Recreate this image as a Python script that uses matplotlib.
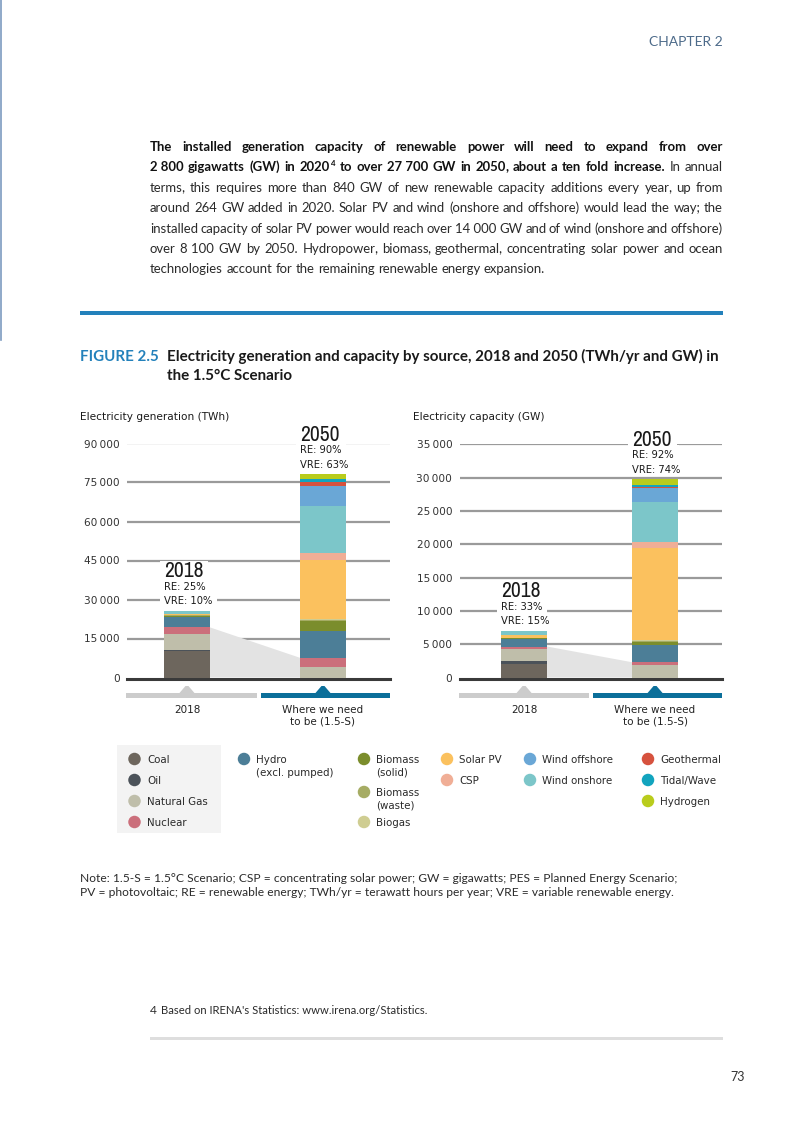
import matplotlib
matplotlib.use('Agg')
import matplotlib.pyplot as plt
from matplotlib.patches import Rectangle, Polygon, Ellipse
from matplotlib import font_manager
from matplotlib.font_manager import FontProperties
import numpy as np

# ---------------- data ----------------
sources = ['Coal', 'Oil', 'Natural Gas', 'Nuclear', 'Hydro (excl. pumped)',
           'Biomass (solid)', 'Biomass (waste)', 'Biogas', 'Solar PV', 'CSP',
           'Wind onshore', 'Wind offshore', 'Geothermal', 'Tidal/Wave', 'Hydrogen']
source_colors = ['#6d665d', '#4b5259', '#bfbeaa', '#cb6f7b', '#4c7e97',
                 '#7b8d2c', '#a6ac64', '#cfcd92', '#fbc15e', '#f0ae96',
                 '#7cc6c9', '#6aa7d6', '#d6523e', '#12a4be', '#b9cc1c']
non_renewable = ['Coal', 'Oil', 'Natural Gas', 'Nuclear']

gen_2018 = [10050, 700, 5850, 2680, 4080, 480, 120, 100, 350, 10, 1250, 0, 0, 0, 0]
gen_2050 = [0, 0, 4110, 3470, 10410, 3600, 450, 450, 22740, 2570, 18120, 7840, 1540, 1030, 1800]
cap_2018 = [2050, 450, 1800, 350, 1150, 110, 20, 20, 480, 5, 560, 25, 15, 0, 0]
cap_2050 = [0, 0, 1890, 400, 2590, 500, 120, 80, 13930, 800, 6070, 1990, 200, 300, 850]

years = ['2018', '2050']
gen_re = [25, 90]
gen_vre = [10, 63]
cap_re = [33, 92]
cap_vre = [15, 74]
scenario_labels = ['2018', 'Where we need\nto be (1.5-S)']
gen_ticks = [0, 15000, 30000, 45000, 60000, 75000, 90000]
cap_ticks = [0, 5000, 10000, 15000, 20000, 25000, 30000, 35000]

legend_labels = ['Coal', 'Oil', 'Natural Gas', 'Nuclear', 'Hydro\n(excl. pumped)',
                 'Biomass\n(solid)', 'Biomass\n(waste)', 'Biogas', 'Solar PV', 'CSP',
                 'Wind onshore', 'Wind offshore', 'Geothermal', 'Tidal/Wave', 'Hydrogen']
# legend layout (page pixels): circle centre x, y
legend_pos = [(134.5, 759), (134.5, 780), (134.5, 801), (134.5, 822), (244, 759),
              (364, 759), (364, 792), (364, 822), (447, 759), (447, 780),
              (530, 780), (530, 759), (648, 759), (648, 780), (648, 801)]

# ---------------- page setup ----------------
W, H = 803, 1134
fig = plt.figure(figsize=(W / 100, H / 100), dpi=100)
fig.patch.set_facecolor('white')
renderer = fig.canvas.get_renderer()

BODY = 'Lato'
CHART = ['DejaVu Sans']


def find_condensed():
    cands = []
    for f in font_manager.fontManager.ttflist:
        nm = f.name
        st = str(f.stretch).lower()
        if f.style != 'normal':
            continue
        w = f.weight
        try:
            w = int(w)
        except (TypeError, ValueError):
            w = {'normal': 400, 'regular': 400, 'light': 300, 'book': 400}.get(str(w), 700)
        if w > 500 or w < 300:
            continue
        score = None
        if 'Narrow' in nm:
            score = 0
        elif 'condensed' in st or 'Condensed' in nm:
            score = 1 if 'semi' not in st and 'Semi' not in nm else 2
            if 'extra' in st or 'Extra' in nm or 'ultra' in st:
                score = 3
        if score is not None:
            cands.append((score, abs(w - 400), f.fname))
    if cands:
        cands.sort()
        return FontProperties(fname=cands[0][2]), True
    return FontProperties(family='DejaVu Sans'), False


YEAR_FP, YEAR_COND = find_condensed()


def fx(x):
    return x / W


def fy(y):
    return 1 - y / H


def width_of(t):
    return t.get_window_extent(renderer).width


def ptext(x, y, s, **kw):
    kw.setdefault('va', 'baseline')
    return fig.text(fx(x), fy(y), s, **kw)


def fit(t, target):
    w = width_of(t)
    t.set_fontsize(t.get_fontsize() * target / w)
    return t.get_fontsize()


def prect(x0, y0, x1, y1, color, z=1):
    fig.add_artist(Rectangle((fx(x0), fy(y1)), (x1 - x0) / W, (y1 - y0) / H,
                             transform=fig.transFigure, facecolor=color,
                             edgecolor='none', zorder=z))


# left edge rule and chapter header
fig.add_artist(plt.Line2D([fx(1.5), fx(1.5)], [fy(0), fy(340)], color='#7d9bc0',
                          lw=1.2, transform=fig.transFigure))
t = ptext(723, 46.5, 'CHAPTER 2', family=BODY, fontsize=9, color='#4d6b8a', ha='right')
fit(t, 74)

# ---------------- paragraph (justified) ----------------
para = [
    [("The installed generation capacity of renewable power will need to expand from over", 'bold')],
    [("2\u00a0800 gigawatts (GW) in 2020^4 to over 27\u00a0700 GW in 2050, about a ten fold increase.", 'bold'),
     ("In annual", 'normal')],
    [("terms, this requires more than 840 GW of new renewable capacity additions every year, up from", 'normal')],
    [("around 264 GW added in 2020. Solar PV and wind (onshore and offshore) would lead the way; the", 'normal')],
    [("installed capacity of solar PV power would reach over 14\u00a0000 GW and of wind (onshore and offshore)", 'normal')],
    [("over 8\u00a0100 GW by 2050. Hydropower, biomass, geothermal, concentrating solar power and ocean", 'normal')],
    [("technologies account for the remaining renewable energy expansion.", 'normal')],
]
t = ptext(150, 273, para[-1][0][0], family=BODY, fontsize=8.5, color='#2a2a2a')
body_fs = fit(t, 397)
t.remove()

for i, line in enumerate(para):
    y = float(round(151 + i * 20.4))
    words = []
    for chunk, wt in line:
        for wd in chunk.split(' '):
            words.append((wd, wt))
    items = []
    widths = []
    for wd, wt in words:
        col = '#111111' if wt == 'bold' else '#2a2a2a'
        kw = dict(family=BODY, weight=wt, fontsize=body_fs, color=col)
        if '^' in wd:
            base, sup = wd.split('^')
            tb = ptext(0, y, base, **kw)
            ts = ptext(0, y, sup, family=BODY, weight=wt, fontsize=body_fs * 0.6, color=col)
            wb = width_of(tb)
            ws = width_of(ts)
            items.append([(tb, 0, 0), (ts, wb + 0.3, -5)])
            widths.append(wb + ws + 0.3)
        elif wd.endswith(',') and len(wd) > 1:
            tb = ptext(0, y, wd[:-1], **kw)
            tc = ptext(0, y, ',', **kw)
            wb = width_of(tb)
            wc = width_of(tc)
            items.append([(tb, 0, 0), (tc, wb - 1.3, 0)])
            widths.append(wb + wc - 1.3)
        else:
            tt = ptext(0, y, wd, **kw)
            items.append([(tt, 0, 0)])
            widths.append(width_of(tt))
    if i < len(para) - 1:
        gap = (573 - sum(widths)) / (len(words) - 1)
    else:
        gap = body_fs * 100 / 72 * 0.26
    x = 150
    for parts, w in zip(items, widths):
        for tt, dx, dy in parts:
            tt.set_position((fx(x + dx), fy(y + dy)))
        x += w + gap

# blue rule
prect(80, 311.5, 723, 314.5, '#2381bb')

# ---------------- figure title ----------------
t1 = ptext(167, 361, 'Electricity generation and capacity by source, 2018 and 2050 (TWh/yr and GW) in',
           family=BODY, weight='bold', fontsize=9, color='#1a1a1a')
tfs = fit(t1, 551)
ptext(167, 379.5, 'the 1.5\u00b0C Scenario', family=BODY, weight='bold', fontsize=tfs, color='#1a1a1a')
ptext(80, 361, 'FIGURE 2.5', family=BODY, weight='bold', fontsize=tfs, color='#2381bb')


# ---------------- charts ----------------
def fmt(v):
    return f"{v:,}".replace(',', '\u2009')


def label_box(xp, yb, s, size, cap, pad_t, pad_b, fp=None, target_w=None):
    if fp is None:
        tt = ptext(xp, yb, s, family=CHART, fontsize=size, color='#1a1a1a', zorder=6)
    else:
        tt = ptext(xp, yb, s, fontproperties=fp, color='#1a1a1a', zorder=6)
        tt.set_fontsize(size)
    if target_w is not None:
        fit(tt, target_w)
    w = width_of(tt)
    prect(xp - 4, yb - cap - pad_t, xp + w + 5, yb + pad_b, 'white', z=5)


def draw_chart(x0, x1, y_top, y_zero, ymax, ticks, s18, s50, re, vre, title, xlim, bw, pad):
    ax = fig.add_axes([fx(x0), fy(y_zero), (x1 - x0) / W, (y_zero - y_top) / H])
    ax.set_facecolor('none')
    ax.set_xlim(*xlim)
    ax.set_ylim(0, ymax)
    for s in ax.spines.values():
        s.set_visible(False)
    ax.set_yticks(ticks)
    ax.set_yticklabels([fmt(v) for v in ticks])
    ax.tick_params(axis='y', length=0, pad=pad, labelsize=7.6, labelcolor='#333333')
    for lab in ax.get_yticklabels():
        lab.set_family(CHART)
    ax.set_xticks([0, 1])
    ax.set_xticklabels(scenario_labels)
    ax.tick_params(axis='x', length=0, pad=19.5, labelsize=7.5, labelcolor='#222222')
    for lab in ax.get_xticklabels():
        lab.set_family(CHART)
        lab.set_linespacing(1.2)
    for v in ticks[1:]:
        ax.axhline(v, color='#9a9a9a', lw=1.6, zorder=0)
    ax.axhline(-ymax * 0.006, color='#3a3a3a', lw=2.2, zorder=1, clip_on=False)

    idx = [sources.index(n) for n in non_renewable]
    nre18 = sum(s18[i] for i in idx)
    nre50 = sum(s50[i] for i in idx)
    ax.fill([bw / 2, 1 - bw / 2, 1 - bw / 2, bw / 2], [0, 0, nre50, nre18],
            color='#e3e3e3', lw=0, zorder=1)

    bottoms = np.zeros(2)
    for i, c in enumerate(source_colors):
        vals = np.array([s18[i], s50[i]], dtype=float)
        ax.bar([0, 1], vals, bw, bottom=bottoms, color=c, lw=0, zorder=2)
        bottoms += vals

    # title
    ptext(x0 - 47, 419.5, title, family=CHART, fontsize=7.6, color='#1a1a1a')

    # year annotations
    for col in range(2):
        xd, yd = ax.transData.transform((col - bw / 2, bottoms[col]))
        top = H - yd
        label_box(xd, top - 6.5, f'VRE: {vre[col]}%', 7.2, 7, 4, 3.5)
        label_box(xd, top - 21, f'RE: {re[col]}%', 7.2, 7, 6, 4)
        if YEAR_COND:
            label_box(xd, top - 33.5, years[col], 15.5, 15, 1, 4, fp=YEAR_FP)
        else:
            label_box(xd, top - 33.5, years[col], 13, 15, 1, 4, fp=YEAR_FP, target_w=40)

    # category bars under axis
    bb = ax.get_position()
    left_px = bb.x0 * W
    right_px = bb.x1 * W
    mid = (left_px + right_px) / 2
    prect(left_px - 1, 692.5, mid - 2, 698, '#cccccc', z=2)
    prect(mid + 2, 692.5, right_px, 698, '#0b6f9a', z=2)
    for col, c in zip(range(2), ['#cccccc', '#0b6f9a']):
        xc = ax.transData.transform((col, 0))[0]
        fig.add_artist(Polygon([(fx(xc - 7.5), fy(693)), (fx(xc + 7.5), fy(693)),
                                (fx(xc + 1.5), fy(686)), (fx(xc - 1.5), fy(686))],
                               closed=True, transform=fig.transFigure,
                               facecolor=c, edgecolor='none', zorder=2))
    return ax


draw_chart(127, 390, 443.5, 677.5, 90000, gen_ticks, gen_2018, gen_2050, gen_re, gen_vre,
           'Electricity generation (TWh)', (-0.441, 1.493), 0.338, 5.0)
draw_chart(460, 722, 444.3, 677.5, 35000, cap_ticks, cap_2018, cap_2050, cap_re, cap_vre,
           'Electricity capacity (GW)', (-0.489, 1.511), 0.351, 5.5)

# ---------------- legend ----------------
prect(117, 745, 221, 833, '#f3f3f3', z=1)
for lab, c, (cx, cy) in zip(legend_labels, source_colors, legend_pos):
    fig.add_artist(Ellipse((fx(cx), fy(cy)), 12.5 / W, 12.5 / H, transform=fig.transFigure,
                           facecolor=c, edgecolor='none', zorder=3))
    lines = lab.split('\n')
    for k, ln in enumerate(lines):
        ptext(cx + 12.5, cy + 3.8 + k * 13, ln, family=CHART, fontsize=7.4,
              color='#2a2a2a', zorder=4)

# ---------------- note ----------------
n1 = ptext(80, 881.5, 'Note: 1.5-S = 1.5\u00b0C Scenario; CSP = concentrating solar power; GW = gigawatts; PES = Planned Energy Scenario;',
           family=BODY, fontsize=7, color='#2a2a2a')
nfs = fit(n1, 595)
ptext(80, 895.5, 'PV = photovoltaic; RE = renewable energy; TWh/yr = terawatt hours per year; VRE = variable renewable energy.',
      family=BODY, fontsize=nfs, color='#2a2a2a')

# footnote
ptext(150, 1013.5, '4', family=BODY, fontsize=nfs, color='#2a2a2a')
f1 = ptext(161, 1013.5, "Based on IRENA's Statistics: www.irena.org/Statistics.",
           family=BODY, fontsize=nfs, color='#2a2a2a')
fit(f1, 267)
prect(150, 1036.5, 723, 1039.5, '#dedede')

# page number
ptext(745, 1081, '73', family=BODY, fontsize=9, color='#333333', ha='right')

fig.savefig('out.png', dpi=100, facecolor='white')
